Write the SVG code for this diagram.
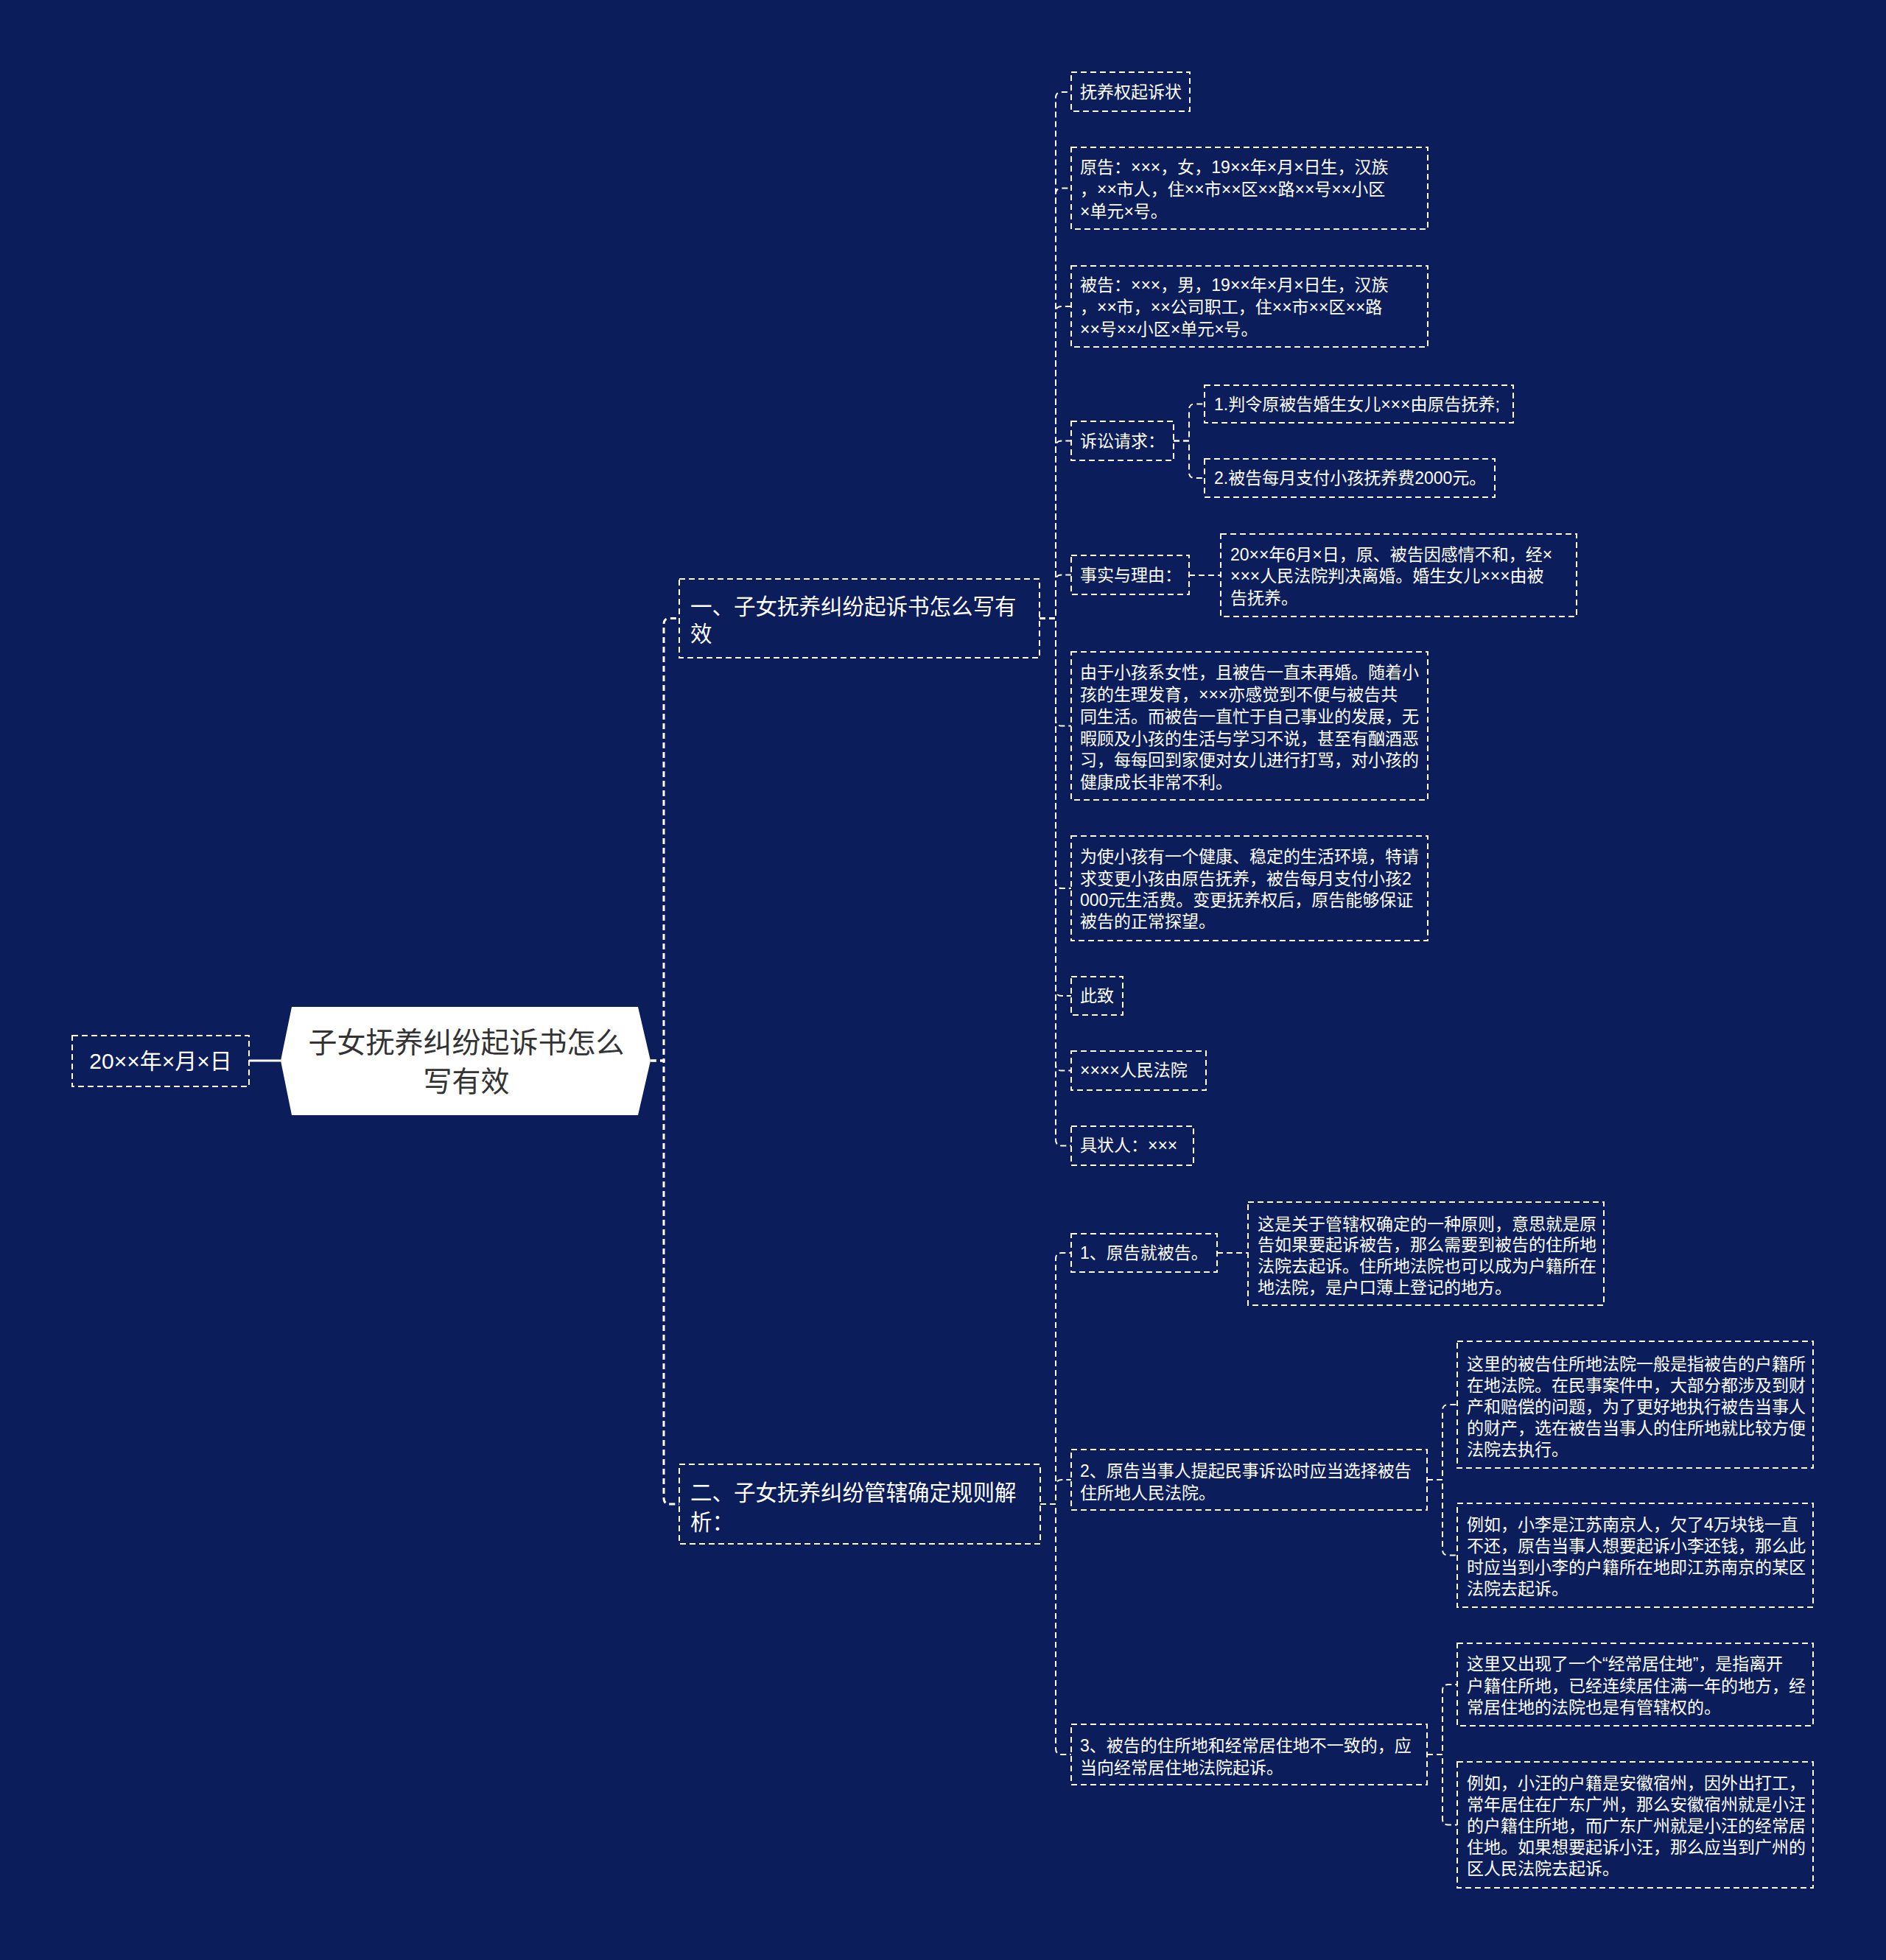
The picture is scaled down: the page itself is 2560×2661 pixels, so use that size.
<svg xmlns="http://www.w3.org/2000/svg" width="2560" height="2661" viewBox="0 0 2560 2661">
<style>
.box{fill:#0b1d5a;stroke:#fff;stroke-width:2;stroke-dasharray:8 5}
.t{font-family:"Liberation Sans","Noto Sans CJK SC",sans-serif;font-size:23px;fill:#fff}
.h1{font-size:29.5px}
.c{fill:none;stroke:#fff;stroke-width:2;stroke-dasharray:8 5}
.c1{fill:none;stroke:#fff;stroke-width:3;stroke-dasharray:8 5}
</style>
<rect x="0" y="0" width="2560" height="2661" fill="#0b1d5a"/>
<g id="connectors">
<line x1="338" y1="1440" x2="381" y2="1440" stroke="#fff" stroke-width="3"/>
<path class="c1" d="M883 1440 H901 V847.5 Q901 839.5 909 839.5 H922"/>
<path class="c1" d="M883 1440 H901 V2034 Q901 2042 909 2042 H922"/>
<path class="c" d="M1411 839.5 H1433 V133 Q1433 125 1441 125 H1454"/>
<path class="c" d="M1411 839.5 H1433 V263.5 Q1433 255.5 1441 255.5 H1454"/>
<path class="c" d="M1411 839.5 H1433 V424 Q1433 416 1441 416 H1454"/>
<path class="c" d="M1411 839.5 H1433 V606.5 Q1433 598.5 1441 598.5 H1454"/>
<path class="c" d="M1411 839.5 H1433 V788.5 Q1433 780.5 1441 780.5 H1454"/>
<path class="c" d="M1411 839.5 H1433 V977.5 Q1433 985.5 1441 985.5 H1454"/>
<path class="c" d="M1411 839.5 H1433 V1198 Q1433 1206 1441 1206 H1454"/>
<path class="c" d="M1411 839.5 H1433 V1344 Q1433 1352 1441 1352 H1454"/>
<path class="c" d="M1411 839.5 H1433 V1445.5 Q1433 1453.5 1441 1453.5 H1454"/>
<path class="c" d="M1411 839.5 H1433 V1547.5 Q1433 1555.5 1441 1555.5 H1454"/>
<path class="c" d="M1593 598.5 H1614 V556.5 Q1614 548.5 1622 548.5 H1635"/>
<path class="c" d="M1593 598.5 H1614 V641 Q1614 649 1622 649 H1635"/>
<path class="c" d="M1614 781 H1657"/>
<path class="c" d="M1412 2042 H1433 V1709 Q1433 1701 1441 1701 H1454"/>
<path class="c" d="M1412 2042 H1433 V2017 Q1433 2009 1441 2009 H1454"/>
<path class="c" d="M1412 2042 H1433 V2374 Q1433 2382 1441 2382 H1454"/>
<path class="c" d="M1652 1701 H1694"/>
<path class="c" d="M1937 2009 H1958 V1915 Q1958 1907 1966 1907 H1978"/>
<path class="c" d="M1937 2009 H1958 V2103.5 Q1958 2111.5 1966 2111.5 H1978"/>
<path class="c" d="M1937 2382 H1958 V2295 Q1958 2287 1966 2287 H1978"/>
<path class="c" d="M1937 2382 H1958 V2469.5 Q1958 2477.5 1966 2477.5 H1978"/>
</g>
<g id="date">
<rect class="box" x="98" y="1406" width="240" height="69"/>
<text class="t" x="218" y="1451" font-size="30" text-anchor="middle" style="font-size:30px">20××年×月×日</text>
</g>
<g id="root">
<polygon points="381,1440 396,1367 866,1367 883,1440 866,1514 396,1514" fill="#fff"/>
<text class="t" x="633" y="1429" text-anchor="middle" style="font-size:39px;fill:#333">子女抚养纠纷起诉书怎么</text>
<text class="t" x="633" y="1482" text-anchor="middle" style="font-size:39px;fill:#333">写有效</text>
</g>
<g id="n1">
<rect class="box" x="922" y="786" width="489" height="107"/>
<text class="t h1" x="937" y="834">一、子女抚养纠纷起诉书怎么写有</text>
<text class="t h1" x="937" y="871">效</text>
</g>
<g id="n2">
<rect class="box" x="922" y="1988" width="490" height="108"/>
<text class="t h1" x="937" y="2037">二、子女抚养纠纷管辖确定规则解</text>
<text class="t h1" x="937" y="2077">析：</text>
</g>
<g id="n1a">
<rect class="box" x="1454" y="98" width="161" height="53"/>
<text class="t" x="1466" y="133">抚养权起诉状</text>
</g>
<g id="n1b">
<rect class="box" x="1454" y="200" width="484" height="111"/>
<text class="t" x="1466" y="235">原告：×××，女，19××年×月×日生，汉族</text>
<text class="t" x="1466" y="265">，××市人，住××市××区××路××号××小区</text>
<text class="t" x="1466" y="295">×单元×号。</text>
</g>
<g id="n1c">
<rect class="box" x="1454" y="361" width="484" height="110"/>
<text class="t" x="1466" y="395">被告：×××，男，19××年×月×日生，汉族</text>
<text class="t" x="1466" y="425">，××市，××公司职工，住××市××区××路</text>
<text class="t" x="1466" y="455">××号××小区×单元×号。</text>
</g>
<g id="n1d">
<rect class="box" x="1454" y="572" width="139" height="53"/>
<text class="t" x="1466" y="607">诉讼请求：</text>
</g>
<g id="n1d1">
<rect class="box" x="1635" y="523" width="419" height="51"/>
<text class="t" x="1648" y="557">1.判令原被告婚生女儿×××由原告抚养;</text>
</g>
<g id="n1d2">
<rect class="box" x="1635" y="623" width="394" height="52"/>
<text class="t" x="1648" y="657">2.被告每月支付小孩抚养费2000元。</text>
</g>
<g id="n1e">
<rect class="box" x="1454" y="754" width="160" height="53"/>
<text class="t" x="1466" y="789">事实与理由：</text>
</g>
<g id="n1e1">
<rect class="box" x="1657" y="725" width="483" height="112"/>
<text class="t" x="1670" y="761">20××年6月×日，原、被告因感情不和，经×</text>
<text class="t" x="1670" y="790">×××人民法院判决离婚。婚生女儿×××由被</text>
<text class="t" x="1670" y="820">告抚养。</text>
</g>
<g id="n1f">
<rect class="box" x="1454" y="885" width="484" height="201"/>
<text class="t" x="1466" y="921">由于小孩系女性，且被告一直未再婚。随着小</text>
<text class="t" x="1466" y="951">孩的生理发育，×××亦感觉到不便与被告共</text>
<text class="t" x="1466" y="981">同生活。而被告一直忙于自己事业的发展，无</text>
<text class="t" x="1466" y="1011">暇顾及小孩的生活与学习不说，甚至有酗酒恶</text>
<text class="t" x="1466" y="1040">习，每每回到家便对女儿进行打骂，对小孩的</text>
<text class="t" x="1466" y="1070">健康成长非常不利。</text>
</g>
<g id="n1g">
<rect class="box" x="1454" y="1135" width="484" height="142"/>
<text class="t" x="1466" y="1171">为使小孩有一个健康、稳定的生活环境，特请</text>
<text class="t" x="1466" y="1201">求变更小孩由原告抚养，被告每月支付小孩2</text>
<text class="t" x="1466" y="1230">000元生活费。变更抚养权后，原告能够保证</text>
<text class="t" x="1466" y="1259">被告的正常探望。</text>
</g>
<g id="n1h">
<rect class="box" x="1454" y="1326" width="70" height="52"/>
<text class="t" x="1466" y="1360">此致</text>
</g>
<g id="n1i">
<rect class="box" x="1454" y="1427" width="183" height="53"/>
<text class="t" x="1466" y="1461">××××人民法院</text>
</g>
<g id="n1j">
<rect class="box" x="1454" y="1529" width="166" height="53"/>
<text class="t" x="1466" y="1563">具状人：×××</text>
</g>
<g id="n2a">
<rect class="box" x="1454" y="1675" width="198" height="52"/>
<text class="t" x="1466" y="1709">1、原告就被告。</text>
</g>
<g id="n2a1">
<rect class="box" x="1694" y="1632" width="483" height="140"/>
<text class="t" x="1707" y="1670">这是关于管辖权确定的一种原则，意思就是原</text>
<text class="t" x="1707" y="1698">告如果要起诉被告，那么需要到被告的住所地</text>
<text class="t" x="1707" y="1727">法院去起诉。住所地法院也可以成为户籍所在</text>
<text class="t" x="1707" y="1756">地法院，是户口薄上登记的地方。</text>
</g>
<g id="n2b">
<rect class="box" x="1454" y="1968" width="483" height="82"/>
<text class="t" x="1466" y="2005">2、原告当事人提起民事诉讼时应当选择被告</text>
<text class="t" x="1466" y="2035">住所地人民法院。</text>
</g>
<g id="n2b1">
<rect class="box" x="1978" y="1821" width="483" height="172"/>
<text class="t" x="1991" y="1860">这里的被告住所地法院一般是指被告的户籍所</text>
<text class="t" x="1991" y="1889">在地法院。在民事案件中，大部分都涉及到财</text>
<text class="t" x="1991" y="1918">产和赔偿的问题，为了更好地执行被告当事人</text>
<text class="t" x="1991" y="1947">的财产，选在被告当事人的住所地就比较方便</text>
<text class="t" x="1991" y="1976">法院去执行。</text>
</g>
<g id="n2b2">
<rect class="box" x="1978" y="2041" width="483" height="141"/>
<text class="t" x="1991" y="2078">例如，小李是江苏南京人，欠了4万块钱一直</text>
<text class="t" x="1991" y="2107">不还，原告当事人想要起诉小李还钱，那么此</text>
<text class="t" x="1991" y="2136">时应当到小李的户籍所在地即江苏南京的某区</text>
<text class="t" x="1991" y="2165">法院去起诉。</text>
</g>
<g id="n2c">
<rect class="box" x="1454" y="2341" width="483" height="82"/>
<text class="t" x="1466" y="2378">3、被告的住所地和经常居住地不一致的，应</text>
<text class="t" x="1466" y="2408">当向经常居住地法院起诉。</text>
</g>
<g id="n2c1">
<rect class="box" x="1978" y="2231" width="483" height="112"/>
<text class="t" x="1991" y="2267">这里又出现了一个“经常居住地”，是指离开</text>
<text class="t" x="1991" y="2297">户籍住所地，已经连续居住满一年的地方，经</text>
<text class="t" x="1991" y="2326">常居住地的法院也是有管辖权的。</text>
</g>
<g id="n2c2">
<rect class="box" x="1978" y="2392" width="483" height="171"/>
<text class="t" x="1991" y="2429">例如，小汪的户籍是安徽宿州，因外出打工，</text>
<text class="t" x="1991" y="2458">常年居住在广东广州，那么安徽宿州就是小汪</text>
<text class="t" x="1991" y="2487">的户籍住所地，而广东广州就是小汪的经常居</text>
<text class="t" x="1991" y="2516">住地。如果想要起诉小汪，那么应当到广州的</text>
<text class="t" x="1991" y="2545">区人民法院去起诉。</text>
</g>
</svg>
